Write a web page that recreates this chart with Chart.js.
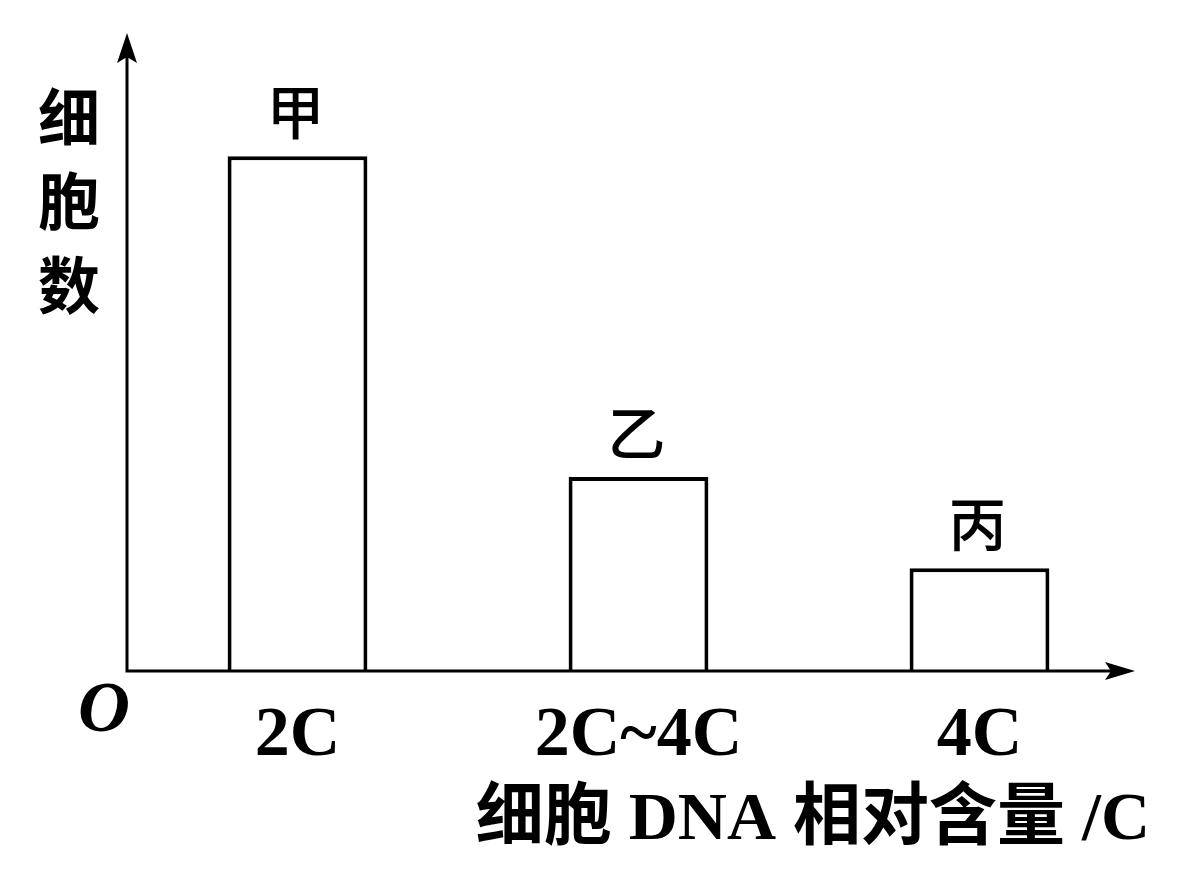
<!DOCTYPE html>
<html>
<head>
<meta charset="utf-8">
<script src="https://cdn.jsdelivr.net/npm/chart.js@4/dist/chart.umd.min.js"></script>
<style>
  html, body { margin: 0; padding: 0; background: #fff; }
  #wrap { width: 1181px; height: 871px; }
</style>
</head>
<body>
<div id="wrap"><canvas id="grafico" width="1181" height="871"></canvas></div>
<script>
// dados
const categorias = ['2C', '2C~4C', '4C'];
const nomesBarras = ['甲', '乙', '丙'];
const numCelulas = [80.7, 30.4, 16.1];
const tituloY = ['细', '胞', '数'];
const tituloX = '细胞 DNA 相对含量 /C';

const fonteSerif = '"Liberation Serif", "Noto Sans CJK SC", serif';
const fonteCJK = '"Noto Sans CJK SC", sans-serif';

// desenha eixos com setas, nomes das barras, titulo do eixo y e a origem O
const eixosPlugin = {
  id: 'eixos',
  afterDatasetsDraw(chart) {
    const ctx = chart.ctx;
    const area = chart.chartArea;
    const x0 = area.left, y0 = area.bottom;
    const topo = area.top, fimX = area.right - 15;

    ctx.save();
    ctx.strokeStyle = '#000';
    ctx.fillStyle = '#000';
    ctx.lineWidth = 3;
    ctx.beginPath();
    ctx.moveTo(x0, y0);
    ctx.lineTo(x0, topo + 20);
    ctx.moveTo(x0 - 1.5, y0);
    ctx.lineTo(fimX - 20, y0);
    ctx.stroke();

    // seta vertical
    ctx.beginPath();
    ctx.moveTo(x0, topo);
    ctx.lineTo(x0 + 10, topo + 30);
    ctx.lineTo(x0, topo + 24);
    ctx.lineTo(x0 - 10, topo + 30);
    ctx.closePath();
    ctx.fill();

    // seta horizontal
    ctx.beginPath();
    ctx.moveTo(fimX, y0);
    ctx.lineTo(fimX - 30, y0 - 9);
    ctx.lineTo(fimX - 24, y0);
    ctx.lineTo(fimX - 30, y0 + 9);
    ctx.closePath();
    ctx.fill();

    // nomes em cima das barras
    const meta = chart.getDatasetMeta(0);
    ctx.font = '500 58px ' + fonteCJK;
    ctx.textAlign = 'center';
    ctx.textBaseline = 'middle';
    meta.data.forEach((bar, i) => {
      ctx.fillText(nomesBarras[i], bar.x - 2, bar.y - 44);
    });

    // titulo vertical do eixo y
    ctx.font = 'bold 62px ' + fonteCJK;
    tituloY.forEach((c, i) => {
      ctx.fillText(c, 69, 117 + i * 84);
    });

    // origem
    ctx.font = 'italic bold 72px ' + fonteSerif;
    ctx.fillText('O', 104, 712);
    ctx.restore();
  }
};

new Chart(document.getElementById('grafico').getContext('2d'), {
  type: 'bar',
  data: {
    labels: categorias,
    datasets: [{
      data: numCelulas,
      backgroundColor: '#fff',
      borderColor: '#000',
      borderWidth: 4,
      barPercentage: 0.41,
      categoryPercentage: 1
    }]
  },
  options: {
    responsive: false,
    animation: false,
    layout: { padding: { left: 127, top: 33, right: 31, bottom: 0 } },
    plugins: { legend: { display: false }, tooltip: { enabled: false } },
    scales: {
      y: { display: false, min: 0, max: 100 },
      x: {
        grid: { display: false },
        border: { display: false },
        ticks: {
          color: '#000',
          padding: 16,
          font: { family: fonteSerif, size: 70, weight: 'bold' }
        },
        title: {
          display: true,
          text: tituloX,
          align: 'end',
          color: '#000',
          padding: { top: 0, bottom: 9 },
          font: { family: fonteSerif, size: 68, weight: 'bold' }
        },
        afterFit(scale) { scale.height = 200; }
      }
    }
  },
  plugins: [eixosPlugin]
});
</script>
</body>
</html>
